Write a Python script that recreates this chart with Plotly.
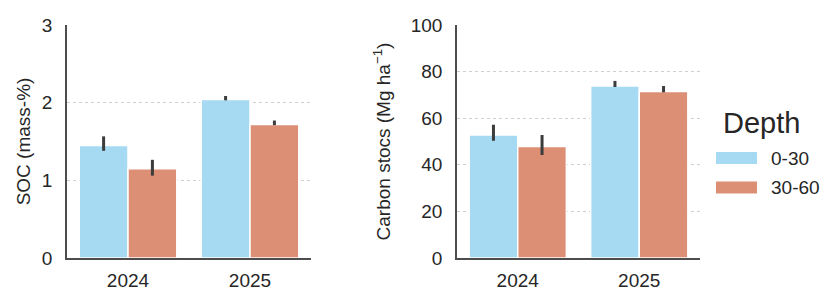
import plotly.graph_objects as go

years = ["2024", "2025"]
depths = ["0-30", "30-60"]

soc_mean = {"0-30": [1.45, 2.04], "30-60": [1.15, 1.72]}
soc_hi = {"0-30": [1.566, 2.086], "30-60": [1.264, 1.77]}
soc_lo = {"0-30": [1.38, 2.03], "30-60": [1.06, 1.71]}

stock_mean = {"0-30": [52.8, 73.8], "30-60": [47.9, 71.5]}
stock_hi = {"0-30": [57.2, 76.0], "30-60": [52.8, 73.8]}
stock_lo = {"0-30": [50.3, 73.4], "30-60": [44.2, 71.1]}

soc_ticks = [0, 1, 2, 3]
stock_ticks = [0, 20, 40, 60, 80, 100]
legend_title = "Depth"

colors = {"0-30": "#a6daf2", "30-60": "#dc8f75"}
OFF = 8  # page body margin
W, H = 829 - 2 * OFF, 291 - OFF
FONT = "Liberation Sans, Arial, sans-serif"
TXT = "#262626"

fig = go.Figure()

for mean, hi, lo, xa, ya in [
    (soc_mean, soc_hi, soc_lo, "x", "y"),
    (stock_mean, stock_hi, stock_lo, "x2", "y2"),
]:
    for d in depths:
        m = mean[d]
        fig.add_trace(go.Bar(
            x=years, y=m, name=d, xaxis=xa, yaxis=ya, showlegend=False,
            offsetgroup=d,
            marker=dict(color=colors[d], line=dict(color="white", width=1.5)),
            error_y=dict(type="data", symmetric=False,
                         array=[h - v for h, v in zip(hi[d], m)],
                         arrayminus=[v - l for l, v in zip(lo[d], m)],
                         color="#3c3c3c", thickness=3, width=0),
        ))

px = lambda v: (v - OFF) / W
py = lambda v: (H - (v - OFF)) / H

# custom legend (wide swatches, as in the reference)
shapes = []
annotations = [dict(
    text=legend_title, xref="paper", yref="paper", x=px(721), y=py(123),
    xanchor="left", yanchor="middle", showarrow=False,
    font=dict(size=29, color=TXT, family=FONT),
)]
for i, d in enumerate(depths):
    yc = 158 + i * 29.5
    shapes.append(dict(
        type="rect", xref="paper", yref="paper",
        x0=px(716), x1=px(757), y0=py(yc - 6), y1=py(yc + 6),
        fillcolor=colors[d], line=dict(width=0),
    ))
    annotations.append(dict(
        text=d, xref="paper", yref="paper", x=px(769), y=py(yc),
        xanchor="left", yanchor="middle", showarrow=False,
        font=dict(size=19, color=TXT, family=FONT),
    ))

axis_common = dict(
    showline=True, linecolor="#4d4d4d", linewidth=1.5,
    ticks="", tickfont=dict(size=19, color=TXT, family=FONT),
    zeroline=False, automargin=False,
)

fig.update_layout(
    width=W, height=H,
    margin=dict(l=0, r=0, t=0, b=0),
    paper_bgcolor="white", plot_bgcolor="white",
    barmode="group", bargap=0.2, bargroupgap=0,
    showlegend=False,
    font=dict(family=FONT, color=TXT),
    shapes=shapes, annotations=annotations,
    xaxis=dict(domain=[px(67), px(311)], showgrid=False, anchor="y",
               ticklabelstandoff=4, **axis_common),
    yaxis=dict(domain=[py(258), py(25)], range=[0, 3], tickvals=soc_ticks,
               showgrid=True, gridcolor="#cfcfcf", griddash="dot", gridwidth=1,
               anchor="x", ticklabelstandoff=9,
               title=dict(text="SOC (mass-%)", font=dict(size=19, color=TXT, family=FONT), standoff=6),
               **axis_common),
    xaxis2=dict(domain=[px(457), px(700)], showgrid=False, anchor="y2",
                ticklabelstandoff=4, **axis_common),
    yaxis2=dict(domain=[py(258), py(25)], range=[0, 100], tickvals=stock_ticks,
                showgrid=True, gridcolor="#cfcfcf", griddash="dot", gridwidth=1,
                anchor="x2", ticklabelstandoff=9,
                title=dict(text="Carbon stocs (Mg ha<sup>−1</sup>)", font=dict(size=19, color=TXT, family=FONT), standoff=15),
                **axis_common),
)

fig.write_html("out.html")
